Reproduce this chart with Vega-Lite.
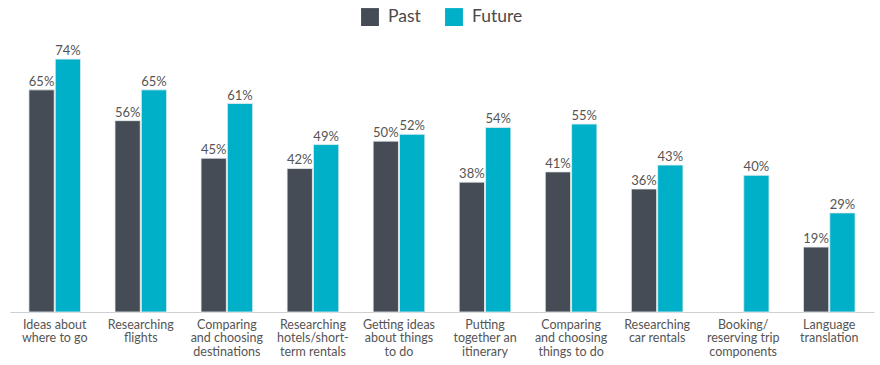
{
  "$schema": "https://vega.github.io/schema/vega-lite/v6.json",
  "width": 864,
  "height": 271,
  "padding": {"left": 10, "top": 8, "right": 6, "bottom": 0},
  "background": "white",
  "config": {
    "view": {"stroke": null},
    "font": "Lato",
    "legend": {"layout": {"top": {"anchor": "middle"}}}
  },
  "data": {
    "values": [
      {"activity": "Ideas about|where to go", "period": "Past", "share": 0.65},
      {"activity": "Ideas about|where to go", "period": "Future", "share": 0.74},
      {"activity": "Researching|flights", "period": "Past", "share": 0.56},
      {"activity": "Researching|flights", "period": "Future", "share": 0.65},
      {"activity": "Comparing|and choosing|destinations", "period": "Past", "share": 0.45},
      {"activity": "Comparing|and choosing|destinations", "period": "Future", "share": 0.61},
      {"activity": "Researching|hotels/short-|term rentals", "period": "Past", "share": 0.42},
      {"activity": "Researching|hotels/short-|term rentals", "period": "Future", "share": 0.49},
      {"activity": "Getting ideas|about things|to do", "period": "Past", "share": 0.50},
      {"activity": "Getting ideas|about things|to do", "period": "Future", "share": 0.52},
      {"activity": "Putting|together an|itinerary", "period": "Past", "share": 0.38},
      {"activity": "Putting|together an|itinerary", "period": "Future", "share": 0.54},
      {"activity": "Comparing|and choosing|things to do", "period": "Past", "share": 0.41},
      {"activity": "Comparing|and choosing|things to do", "period": "Future", "share": 0.55},
      {"activity": "Researching|car rentals", "period": "Past", "share": 0.36},
      {"activity": "Researching|car rentals", "period": "Future", "share": 0.43},
      {"activity": "Booking/|reserving trip|components", "period": "Past", "share": null},
      {"activity": "Booking/|reserving trip|components", "period": "Future", "share": 0.40},
      {"activity": "Language|translation", "period": "Past", "share": 0.19},
      {"activity": "Language|translation", "period": "Future", "share": 0.29}
    ]
  },
  "encoding": {
    "x": {
      "field": "activity",
      "type": "nominal",
      "sort": null,
      "scale": {"paddingInner": 0.4, "paddingOuter": 0.22},
      "axis": {
        "title": null,
        "labelAngle": 0,
        "labelExpr": "split(datum.label, '|')",
        "labelFont": "Lato",
        "labelFontSize": 12.5,
        "labelLineHeight": 13.5,
        "labelColor": "#555555",
        "labelPadding": 6,
        "ticks": false,
        "domainColor": "#cfcfcf",
        "domainWidth": 1,
        "labelLimit": 120
      }
    },
    "xOffset": {
      "field": "period",
      "type": "nominal",
      "sort": ["Past", "Future"],
      "scale": {"paddingInner": 0.04}
    },
    "y": {
      "field": "share",
      "type": "quantitative",
      "scale": {"domain": [0, 0.793], "nice": false},
      "axis": null
    }
  },
  "layer": [
    {
      "mark": {"type": "bar", "stroke": "#e8eef0", "strokeWidth": 0.8},
      "encoding": {
        "color": {
          "field": "period",
          "type": "nominal",
          "sort": ["Past", "Future"],
          "scale": {"domain": ["Past", "Future"], "range": ["#454c55", "#00b0c8"]},
          "legend": {
            "title": null,
            "orient": "top",
            "direction": "horizontal",
            "symbolType": "square",
            "symbolSize": 320,
            "symbolStrokeWidth": 0,
            "labelFontSize": 17.5,
            "labelColor": "#4a4a4a",
            "labelFont": "Lato",
            "columnPadding": 24,
            "offset": 15,
            "labelOffset": 9
          }
        }
      }
    },
    {
      "mark": {"type": "text", "dy": -8, "fontSize": 13, "color": "#555555", "font": "Lato"},
      "encoding": {
        "text": {"field": "share", "type": "quantitative", "format": ".0%"}
      }
    }
  ]
}
